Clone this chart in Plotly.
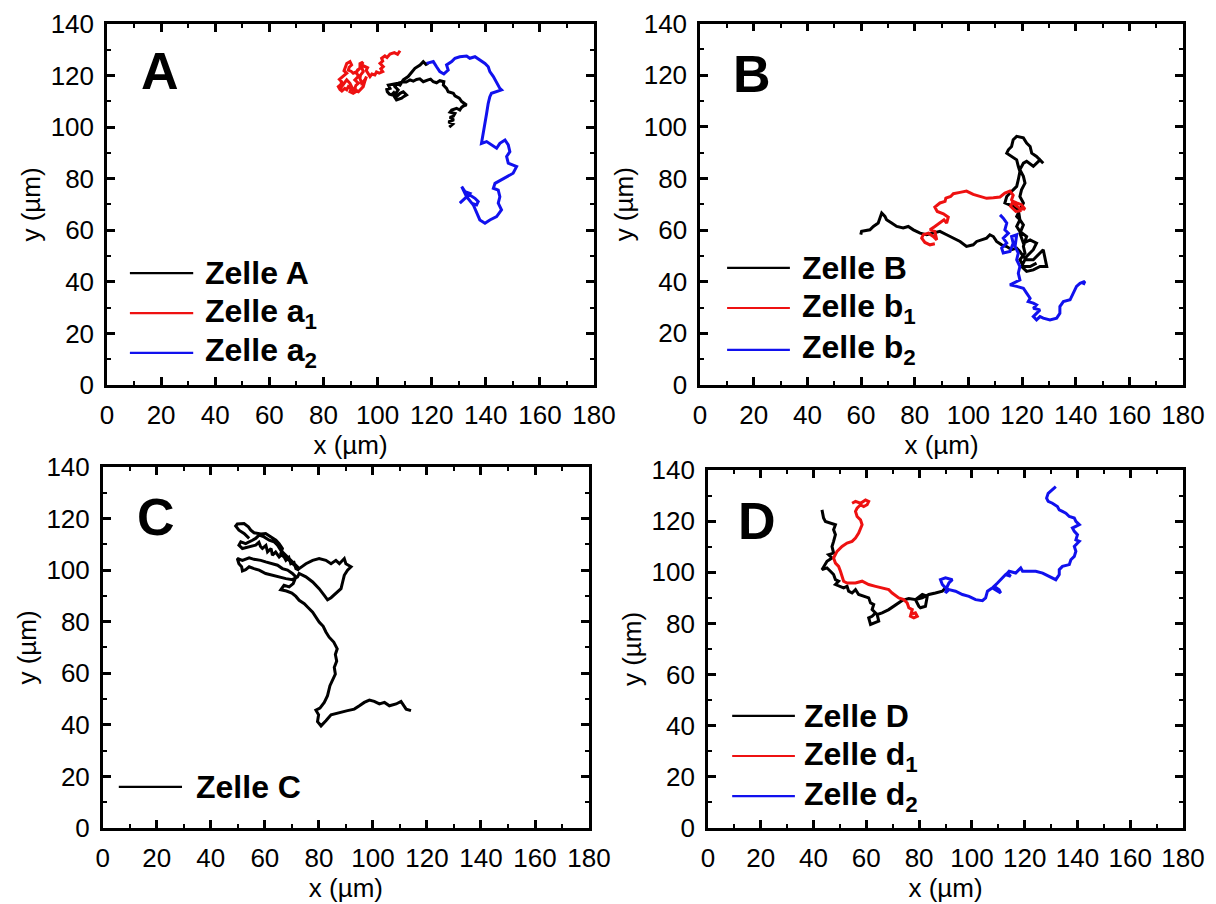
import plotly.graph_objects as go

# ---------------- data (µm) ----------------
X_TICKS = [0, 20, 40, 60, 80, 100, 120, 140, 160, 180]
Y_TICKS = [0, 20, 40, 60, 80, 100, 120, 140]

# Panel A
zelle_A = [(126.5,100.0),(127.8,101.2),(126.2,102.0),(128.2,102.8),(126.7,103.8),(128.0,104.2),(128.6,105.3),
           (126.8,105.8),(127.4,106.6),(129.2,107.3),(130.4,106.6),(131.0,107.6),(131.7,108.2),(132.9,108.6),
           (131.1,109.9),(130.2,111.2),(128.6,112.1),(128.0,113.1),(126.1,113.7),(125.5,115.0),(124.3,116.3),
           (124.5,117.6),(123.0,118.0),(121.8,117.2),(120.6,117.6),(119.6,118.6),(118.7,118.3),(116.9,117.6),
           (115.6,118.7),(114.4,118.5),(113.2,117.8),(112.0,118.3),(110.6,117.5),(109.5,117.6),(107.6,117.0),
           (105.8,116.7),(104.0,116.3),(104.6,115.0),(103.4,114.6),(103.6,113.7),(104.4,112.8),(105.2,112.5),
           (106.0,113.4),(107.0,111.8),(108.3,113.1),(109.5,113.7),(110.7,112.5),(109.6,111.8),(108.9,111.2),
           (107.0,110.5),(105.8,112.5),(106.8,113.2),(107.6,114.4),(106.4,115.7),(107.2,116.8),(108.3,116.3),
           (109.5,118.3),(111.3,119.6),(112.6,121.5),(113.8,122.8),(115.7,124.1),(116.9,125.4),(117.9,124.3),
           (118.7,124.7)]
zelle_a1 = [(108.3,129.6),(107.4,128.2),(106.2,128.9),(104.6,128.3),(103.5,127.0),(102.7,127.6),(101.5,126.7),
            (101.9,125.6),(100.9,124.7),(102.1,123.4),(101.2,122.6),(101.9,121.5),(100.6,120.9),(99.6,121.4),
            (99.0,120.2),(97.9,120.6),(97.2,119.6),(96.6,120.9),(95.8,122.0),(96.3,123.0),(95.3,123.4),
            (94.1,124.1),(94.6,125.2),(93.5,124.6),(93.5,122.8),(92.6,122.2),(92.2,120.9),(93.0,119.8),
            (91.6,118.3),(92.9,117.0),(92.0,116.2),(91.6,115.0),(92.4,114.0),(91.0,113.1),(89.8,113.7),
            (90.2,114.8),(89.2,115.7),(88.6,114.5),(87.9,115.0),(86.8,114.0),(86.1,114.6),(85.5,115.7),
            (86.4,116.5),(86.7,117.6),(85.9,118.5),(87.3,119.6),(88.6,120.9),(87.6,121.8),(87.9,122.8),
            (88.2,123.8),(88.6,124.7),(89.8,125.4),(90.4,124.1),(89.5,123.2),(89.2,122.1),(90.3,121.6),
            (91.0,120.9),(92.1,121.4),(92.9,122.1),(94.1,123.4),(94.7,121.5),(93.7,120.2),(93.5,118.9),
            (94.1,117.0),(95.3,118.3),(95.9,119.6),(95.2,117.5),(94.7,115.7),(93.6,114.5),(92.9,113.7),
            (91.0,114.4),(90.5,115.8),(89.8,117.0),(88.6,118.3),(87.1,116.3),(85.8,114.4)]
zelle_a2 = [(118.1,124.7),(120.6,125.4),(121.8,123.4),(123.0,121.5),(124.5,120.6),(126.1,122.1),(125.5,124.1),
            (127.4,125.4),(128.6,126.7),(130.4,127.3),(132.9,127.6),(134.1,126.7),(136.0,127.3),(137.8,126.0),
            (139.7,124.7),(140.9,123.4),(141.5,121.5),(142.8,119.6),(144.0,117.0),(145.2,115.0),(145.8,114.4),
            (144.0,113.7),(142.1,113.1),(141.5,111.8),(140.9,109.2),(140.3,105.3),(139.7,101.5),(139.1,97.6),
            (138.4,93.7),(140.3,94.4),(142.1,93.1),(144.0,91.8),(145.2,93.7),(147.1,95.0),(148.3,93.1),
            (148.9,90.5),(147.7,88.6),(148.3,86.0),(150.1,85.3),(151.4,84.7),(150.1,82.1),(147.7,80.8),
            (145.2,79.5),(143.4,78.2),(142.8,76.3),(144.6,75.6),(145.2,73.0),(144.6,70.5),(145.8,67.9),
            (144.0,65.3),(141.5,64.0),(139.7,62.7),(137.8,64.0),(136.6,66.6),(135.4,69.8),(132.9,73.0),
            (131.1,76.9),(132.3,75.0),(134.1,74.3),(132.9,73.0),(130.4,70.5),(132.3,72.4),(134.1,73.7),
            (136.0,72.4),(137.2,71.1),(136.6,69.8),(134.7,70.5)]

# Panel B
zelle_B = [(59.9,58.2),(60.2,59.5),(63.3,60.1),(64.6,61.4),(66.4,62.7),(67.1,65.3),(67.7,66.6),(68.9,65.3),
           (69.5,64.0),(71.4,62.7),(73.3,61.4),(75.7,60.8),(77.6,61.4),(79.5,60.1),(82.0,58.8),(84.4,58.2),
           (86.9,58.8),(89.4,59.5),(91.9,58.2),(94.4,56.9),(96.9,55.6),(99.3,53.7),(101.8,54.3),(103.1,55.6),
           (104.9,56.2),(106.8,56.9),(108.0,58.2),(109.3,57.5),(110.5,55.6),(112.4,54.3),(114.3,53.6),
           (116.1,52.4),(118.0,53.0),(119.2,51.7),(120.5,49.8),(121.7,48.5),(124.2,48.5),(126.7,51.1),
           (127.9,52.4),(129.2,45.9),(126.7,45.9),(124.2,44.6),(121.7,44.0),(119.8,45.9),(121.7,49.8),
           (124.2,52.4),(125.4,54.9),(123.0,56.2),(120.5,54.9),(119.2,58.8),(120.5,62.0),(119.2,64.0),
           (118.0,65.3),(119.2,67.9),(120.5,70.5),(119.2,73.0),(119.8,75.6),(121.1,78.2),(120.5,80.8),
           (119.2,83.4),(120.5,85.9),(121.7,86.6),(124.2,84.7),(126.7,87.2),(127.9,85.9),(125.4,88.5),
           (123.6,89.8),(123.0,92.4),(121.7,93.7),(120.5,95.7),(118.0,96.3),(116.7,95.0),(116.1,92.4),
           (114.9,91.1),(114.3,89.8),(116.1,88.5),(118.0,87.2),(118.6,84.7),(119.2,82.7),(118.6,79.5),
           (118.0,76.9),(116.7,75.6),(114.3,73.0),(113.6,70.5),(116.7,69.2),(118.6,67.9),(119.2,64.0),
           (118.0,61.4),(119.2,59.5),(121.7,57.5),(120.5,53.7),(121.1,51.1),(119.2,48.5),(120.5,45.9),
           (123.0,45.9),(125.4,47.2)]
zelle_b1 = [(87.5,54.7),(85.7,54.3),(83.8,55.2),(82.6,56.9),(83.2,58.2),(85.1,58.8),(86.9,57.5),(88.2,56.2),
            (87.5,59.5),(85.7,60.1),(87.5,61.4),(89.4,62.7),(90.9,64.0),(91.9,62.7),(92.5,65.0),(90.7,66.3),
            (88.4,67.2),(87.5,68.9),(89.4,70.5),(91.3,71.1),(91.6,72.4),(93.4,73.0),(94.4,74.1),(96.9,74.6),
            (99.3,75.1),(101.8,73.8),(104.3,73.0),(106.8,72.3),(109.3,72.5),(111.8,72.8),(113.6,74.3),
            (115.5,75.1),(116.7,73.5),(116.1,71.7),(117.4,69.7),(119.2,68.4),(121.1,68.1),(119.8,69.8),
            (118.0,70.5),(116.7,71.1),(115.7,69.2),(117.7,67.2),(119.8,67.6)]
zelle_b2 = [(111.8,65.9),(113.0,64.6),(114.3,62.7),(113.6,60.1),(114.9,58.8),(113.0,56.9),(114.3,55.0),
            (112.4,53.0),(113.0,51.1),(115.5,51.7),(116.7,54.9),(116.1,57.5),(118.0,58.2),(117.4,53.6),
            (118.6,51.1),(118.0,48.5),(119.2,45.9),(118.6,43.3),(119.2,40.7),(116.7,39.4),(115.5,38.8),
            (118.0,38.2),(120.5,37.5),(121.7,35.6),(123.0,33.6),(122.3,32.3),(124.2,31.7),(125.4,31.0),
            (124.2,29.7),(126.7,29.1),(125.4,27.8),(124.2,26.5),(125.4,25.2),(126.7,26.5),(127.9,25.9),
            (130.4,25.2),(132.9,25.9),(134.1,27.8),(134.1,30.4),(135.4,32.3),(137.9,33.0),(139.1,35.6),
            (140.3,38.2),(141.6,39.4),(143.4,40.1),(142.8,38.8)]

# Panel C
zelle_C = [(114.1,45.5),(112.3,46.1),(110.4,49.1),(108.6,48.1),(106.1,47.4),(104.3,48.7),(102.4,48.1),
           (100.5,49.1),(98.7,49.6),(96.8,48.7),(95.0,47.4),(93.1,46.1),(90.6,45.5),(88.2,44.8),(86.3,44.2),
           (84.5,43.9),(82.6,41.6),(80.8,39.6),(79.5,41.3),(79.9,43.9),(78.9,45.7),(80.4,46.5),(82.0,48.7),
           (83.2,51.3),(84.1,55.2),(85.1,57.4),(86.1,59.7),(85.7,62.3),(86.6,64.7),(86.1,67.3),(86.8,69.5),
           (85.5,72.1),(83.8,74.0),(82.6,76.0),(81.6,78.2),(80.1,79.9),(78.9,81.8),(77.7,83.7),(75.8,85.7),
           (74.6,87.0),(72.7,88.3),(71.5,89.8),(70.0,91.1),(68.0,91.9),(65.9,92.4),(67.1,94.1),(69.0,93.5),
           (70.5,94.8),(71.5,97.4),(70.2,98.7),(68.4,100.0),(66.5,100.6),(64.7,101.9),(62.2,102.5),
           (60.3,103.2),(58.5,103.8),(56.0,104.2),(54.2,104.8),(51.7,103.8),(49.8,104.5),(50.4,102.5),
           (51.4,101.3),(51.7,99.7),(52.9,100.2),(54.2,101.3),(56.0,100.6),(57.9,100.0),(60.3,98.7),
           (62.8,98.0),(65.3,97.4),(67.8,96.7),(70.2,96.3),(72.1,97.4),(72.7,98.7),(75.2,97.4),(77.7,95.4),
           (80.1,92.8),(82.0,90.2),(83.2,88.5),(84.5,89.3),(86.3,90.9),(88.2,92.8),(88.8,95.4),(89.4,98.0),
           (90.6,100.0),(91.9,101.3),(90.0,102.5),(89.4,104.5),(87.6,102.5),(86.3,103.8),(84.5,102.5),
           (82.6,103.8),(80.1,104.5),(77.7,103.8),(75.2,102.5),(72.7,100.6),(71.5,101.9),(69.6,103.8),
           (67.8,105.8),(65.9,107.7),(64.7,109.7),(63.4,111.0),(61.6,111.6),(59.7,112.9),(57.9,113.6),
           (56.6,112.3),(55.4,111.6),(54.2,111.0),(52.9,110.3),(51.1,111.0),(50.4,109.7),(51.7,108.4),
           (54.2,109.0),(56.6,109.7),(57.8,110.8),(58.4,109.2),(59.1,108.4),(60.4,109.6),(61.0,107.1),
           (62.3,108.4),(62.8,105.8),(64.0,107.0),(65.3,105.1),(66.5,106.3),(67.8,103.8),(68.9,104.9),
           (69.6,102.5),(70.8,103.0),(71.5,100.6),(72.7,100.0),(70.9,101.9),(69.0,103.8),(67.1,105.1),
           (65.9,106.4),(66.5,108.4),(65.3,110.3),(64.1,111.6),(62.2,112.9),(60.3,114.2),(58.5,114.0),
           (56.0,114.5),(54.8,115.5),(53.9,116.8),(52.3,118.1),(49.8,117.9),(49.2,117.1),(50.4,115.5),
           (52.3,114.2),(54.2,112.3)]

# Panel D
zelle_D = [(43.2,124.4),(43.8,121.2),(44.5,119.9),(46.4,119.2),(48.3,118.6),(47.6,116.6),(48.3,114.7),
           (47.6,112.1),(47.0,110.1),(47.6,107.5),(45.7,106.9),(47.0,105.6),(45.1,104.3),(43.2,101.0),
           (45.1,101.7),(46.4,100.4),(47.6,99.1),(48.3,97.1),(49.5,96.5),(48.3,95.2),(50.2,94.5),(51.4,93.9),
           (52.7,94.5),(53.3,92.6),(54.6,91.9),(55.9,93.2),(57.1,91.3),(59.0,90.6),(60.9,90.0),(61.6,88.0),
           (62.8,87.4),(62.2,85.4),(63.5,84.1),(62.2,82.8),(60.9,82.2),(61.6,79.6),(64.7,80.9),(64.1,83.5),
           (66.0,84.1),(68.5,85.4),(71.1,87.4),(73.6,89.0),(76.1,89.7),(78.6,89.3),(79.9,86.7),(80.5,86.1),
           (82.4,86.7),(83.1,90.6),(81.2,91.3),(78.6,89.3),(81.2,90.0),(83.7,91.3),(86.2,91.9),(88.8,92.6),
           (90.0,93.9)]
zelle_d1 = [(54.6,127.0),(55.9,127.7),(57.8,127.0),(59.7,128.3),(60.9,127.7),(60.3,126.4),(59.0,125.7),
            (57.8,126.4),(56.5,125.1),(55.9,123.8),(56.5,121.8),(57.8,120.5),(58.4,118.6),(57.8,117.3),
            (57.1,115.3),(55.9,113.4),(54.6,112.1),(52.7,111.4),(50.8,110.1),(48.9,108.2),(47.6,105.6),
            (48.3,103.6),(49.5,102.3),(50.2,100.4),(50.8,98.4),(51.4,96.5),(52.7,95.8),(55.9,95.8),(58.4,96.5),
            (60.9,95.2),(63.5,94.5),(66.0,93.9),(68.5,93.2),(69.8,91.9),(72.3,90.0),(74.2,89.3),(75.5,88.0),
            (76.1,86.1),(77.4,85.4),(76.7,82.8),(78.0,82.2),(79.3,82.8),(78.6,84.1),(77.4,83.7)]
zelle_d2 = [(90.0,93.9),(88.8,95.2),(88.1,97.1),(90.0,97.8),(92.6,97.1),(91.3,95.8),(90.7,94.5),(90.0,91.9),
            (91.3,93.2),(93.8,92.6),(96.4,91.3),(98.9,90.6),(101.4,89.3),(104.0,88.9),(105.2,90.0),(105.9,92.6),
            (107.8,93.9),(109.0,93.2),(110.9,91.9),(110.3,93.2),(108.4,94.5),(109.7,95.8),(111.6,97.8),
            (112.8,99.1),(114.7,98.4),(113.5,99.7),(114.1,100.4),(116.6,99.7),(118.5,101.7),(119.2,100.4),
            (121.7,100.4),(124.2,100.4),(126.8,99.7),(129.3,98.4),(131.8,97.1),(133.1,99.1),(133.1,101.0),
            (134.3,102.3),(136.9,103.0),(137.5,104.9),(138.8,106.2),(139.4,108.2),(138.8,110.1),(140.7,112.1),
            (139.4,112.7),(140.0,114.7),(138.8,116.0),(138.1,117.3),(140.7,118.6),(139.4,119.9),(138.8,121.2),
            (136.9,121.8),(135.6,123.1),(134.3,123.8),(133.1,124.4),(132.4,125.7),(130.5,127.0),(128.9,127.7),
            (128.3,129.0),(128.9,130.9),(130.5,132.2),(131.8,133.5)]

BLACK = "#000000"
RED = "#EE1111"
BLUE = "#1111EE"

panels = [
    # (letter, axis suffix, traces [(name html, data, color)], x domain, y domain, letter pos, legend layout)
    ("A", "", [("Zelle A", zelle_A, BLACK), ("Zelle a<sub>1</sub>", zelle_a1, RED), ("Zelle a<sub>2</sub>", zelle_a2, BLUE)],
     [0.0880, 0.4885], [0.5741, 0.9735], (0.109, 0.870), (0.047, 0.177, 0.197, [0.310, 0.199, 0.089])),
    ("B", "2", [("Zelle B", zelle_B, BLACK), ("Zelle b<sub>1</sub>", zelle_b1, RED), ("Zelle b<sub>2</sub>", zelle_b2, BLUE)],
     [0.5757, 0.9729], [0.5741, 0.9740], (0.108, 0.859), (0.056, 0.186, 0.207, [0.324, 0.213, 0.097])),
    ("C", "3", [("Zelle C", zelle_C, BLACK)],
     [0.0845, 0.4844], [0.0841, 0.4834], (0.109, 0.861), (0.033, 0.163, 0.188, [0.114])),
    ("D", "4", [("Zelle D", zelle_D, BLACK), ("Zelle d<sub>1</sub>", zelle_d1, RED), ("Zelle d<sub>2</sub>", zelle_d2, BLUE)],
     [0.5822, 0.9729], [0.0841, 0.4801], (0.103, 0.858), (0.051, 0.183, 0.198, [0.313, 0.201, 0.089])),
]

TICK_FONT = dict(family="Liberation Sans, Arial, sans-serif", size=26, color="black")
TITLE_FONT = dict(family="Liberation Sans, Arial, sans-serif", size=26, color="black")
LEG_FONT = dict(family="Liberation Sans, Arial, sans-serif", size=32, color="black")

fig = go.Figure()
layout = dict(width=1216, height=904, margin=dict(l=0, r=0, t=0, b=0, pad=0), template="none",
              paper_bgcolor="white", plot_bgcolor="white", showlegend=False)
annotations = []
shapes = []

def axis_common(rng, vals, title):
    return dict(range=rng, tickmode="array", tickvals=vals, ticks="inside", ticklen=8, tickwidth=2.5,
                tickcolor="black", showline=True, linewidth=2.5, linecolor="black", mirror="allticks",
                showgrid=False, zeroline=False, fixedrange=True, tickfont=TICK_FONT, automargin=False,
                minor=dict(tickmode="linear", tick0=0, dtick=10, ticks="inside", ticklen=4.5,
                           tickwidth=2, tickcolor="black", showgrid=False),
                title=dict(text=title, font=TITLE_FONT, standoff=3), ticklabelstandoff=5)

for letter, suf, traces, xd, yd, lpos, leg in panels:
    xa, ya = "x" + suf, "y" + suf
    for name, data, color in traces:
        fig.add_trace(go.Scatter(x=[p[0] for p in data], y=[p[1] for p in data], mode="lines",
                                 name=name, line=dict(color=color, width=3), xaxis=xa, yaxis=ya,
                                 hoverinfo="skip"))
    xax = axis_common([0, 180], X_TICKS, "x (µm)")
    xax.update(domain=xd, anchor=ya)
    yax = axis_common([0, 140], Y_TICKS, "y (µm)")
    yax.update(domain=yd, anchor=xa)
    layout["xaxis" + suf] = xax
    layout["yaxis" + suf] = yax
    annotations.append(dict(text="<b>%s</b>" % letter, xref=xa + " domain", yref=ya + " domain",
                            x=lpos[0], y=lpos[1], showarrow=False, xanchor="center", yanchor="middle",
                            font=dict(family="Liberation Sans, Arial, sans-serif", size=52, color="black")))
    lx0, lx1, tx, ys = leg
    for (name, data, color), yy in zip(traces, ys):
        shapes.append(dict(type="line", xref=xa + " domain", yref=ya + " domain", x0=lx0, x1=lx1,
                           y0=yy, y1=yy, line=dict(color=color, width=2.2)))
        annotations.append(dict(text="<b>%s</b>" % name, xref=xa + " domain", yref=ya + " domain",
                                x=tx, y=yy, showarrow=False, xanchor="left", yanchor="middle",
                                font=LEG_FONT))

layout["annotations"] = annotations
layout["shapes"] = shapes
fig.update_layout(**layout)
fig.write_html("out.html")
